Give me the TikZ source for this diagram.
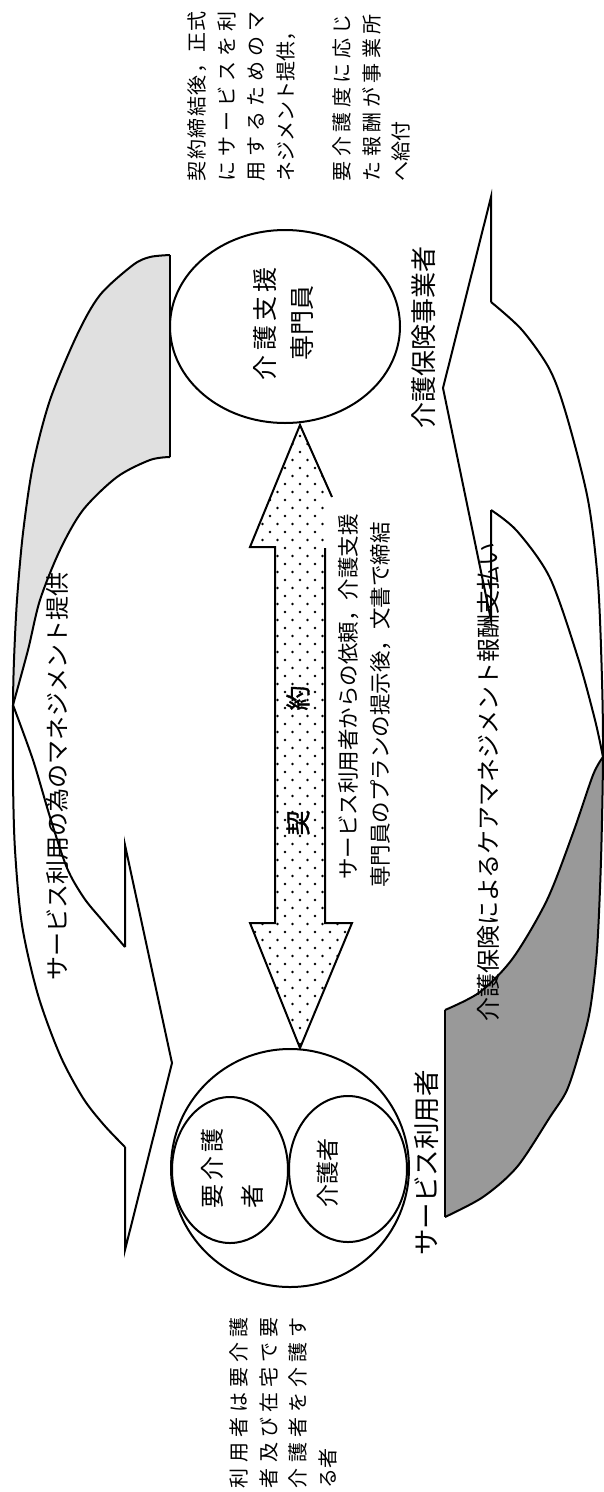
\documentclass[tikz,border=0pt]{standalone}
\usepackage{fontspec}
\newfontfamily\jp{Noto Sans CJK JP}
\newfontfamily\jpb[FakeBold=1.5]{Noto Sans CJK JP}
\usetikzlibrary{patterns}
\pgfdeclarepatternformonly{sdots}{\pgfqpoint{-2pt}{-2pt}}{\pgfqpoint{9.5pt}{10pt}}{\pgfqpoint{15pt}{16pt}}{%
  \pgfpathcircle{\pgfqpoint{0pt}{0pt}}{1.4pt}%
  \pgfpathcircle{\pgfqpoint{7.5pt}{8pt}}{1.4pt}%
  \pgfusepath{fill}}
\def\spreadchars#1#2\endspread{#1\ifx\relax#2\relax\else\hfill\spreadchars#2\endspread\fi}
\newcommand\spreadline[2]{\makebox[#1][s]{\spreadchars#2\endspread}}
\newcommand\jfs[1]{\jp\fontsize{#1}{#1}\selectfont}
\newcommand\jbfs[1]{\jpb\fontsize{#1}{#1}\selectfont}
\begin{document}
\begin{tikzpicture}[x=1pt,y=-1pt,
  outl/.style={line width=2pt,line join=miter},
  lbl/.style={inner sep=0pt,outer sep=0pt,rotate=90},
  note/.style={lbl,anchor=base west,font=\jfs{20pt}}]
\fill[white] (0,0) rectangle (604,1492);
\useasboundingbox (0,0) rectangle (604,1492);

% ---- left curved arrow (management provision) ----
\fill[black!12] (170,255) -- (170,457)
  -- plot[smooth] coordinates {(170,457) (150,460) (117,477) (83,510) (60,550) (40,600) (28,650) (13,705)}
  -- plot[smooth] coordinates {(13,705) (14,660) (17,600) (23,533) (33,465) (50,400) (77,335) (100,295) (133,265) (150,257) (170,255)}
  -- cycle;
\draw[outl] plot[smooth] coordinates {(170,255) (150,257) (133,265) (100,295) (77,335) (50,400) (33,465) (23,533) (17,600) (14,660) (13,705) (13,780) (15,850) (22,925) (38,995) (60,1055) (83,1098) (104,1125) (125,1147)};
\draw[outl] (170,255) -- (170,457);
\draw[outl] plot[smooth] coordinates {(170,457) (150,460) (117,477) (83,510) (60,550) (40,600) (28,650) (13,705)};
\draw[outl] plot[smooth] coordinates {(13,705) (33,760) (50,817) (67,868) (84,898) (102,920) (125,947)};
\draw[outl] (125,947) -- (125,845) -- (172,1063) -- (125,1250) -- (125,1147);

% ---- right curved arrow (payment) ----
\fill[black!40] (445,1010) -- (445,1217)
  -- plot[smooth] coordinates {(445,1217) (483,1197) (517,1167) (550,1117) (567,1090) (580,1050) (590,1010) (597,950) (601,860) (603,757)}
  -- plot[smooth] coordinates {(603,757) (593,775) (573,833) (547,900) (513,958) (480,992) (445,1010)}
  -- cycle;
\draw[outl] plot[smooth] coordinates {(491,302) (522,330) (550,370) (567,417) (588,500) (598,583) (602,680) (603,757) (601,860) (597,950) (590,1010) (580,1050) (567,1090) (550,1117) (517,1167) (483,1197) (445,1217)};
\draw[outl] (445,1010) -- (445,1217);
\draw[outl] plot[smooth] coordinates {(603,757) (593,775) (573,833) (547,900) (513,958) (480,992) (445,1010)};
\draw[outl] plot[smooth] coordinates {(603,757) (595,720) (578,658) (550,578) (517,531) (491,510)};
\draw[outl] (491,302) -- (491,197) -- (443,388) -- (491,620) -- (491,510);

% ---- circles ----
\draw[outl] (285,326.5) ellipse [x radius=115, y radius=96.5];
\draw[outl] (290,1168) circle [radius=119];
\draw[outl] (230,1170) ellipse [x radius=58, y radius=73];
\draw[outl] (348,1169) ellipse [x radius=59, y radius=73];

% ---- double arrow (contract) ----
\fill[pattern=sdots] (300,425) -- (332,497) -- (327,500) -- (325,548) -- (325,923) -- (352,923) -- (300,1048) -- (250,923) -- (275,923) -- (275,547) -- (250,547) -- cycle;
\draw[outl] (332,497) -- (300,425) -- (250,547) -- (275,547) -- (275,923) -- (250,923) -- (300,1048) -- (352,923) -- (325,923) -- (325,548);

% ---- labels ----
\node[lbl,font=\jbfs{25pt}] (kei) at (298,823) {契};
\node[lbl,font=\jbfs{25pt}] (yaku) at (298,698) {約};
\node[lbl,font=\jfs{21.5pt}] (c1) at (349,697) {サービス利用者からの依頼，介護支援};
\node[lbl,font=\jfs{21.5pt}] (c2) at (381,705) {専門員のプランの提示後，文書で締結};

\node[lbl,font=\jfs{25pt}] (cm1) at (265,323.5) {\spreadline{113pt}{介護支援}};
\node[lbl,font=\jfs{25pt}] (cm2) at (302,323) {専門員};

\node[lbl,anchor=base west,font=\jfs{24pt}] (y1) at (221,1208) {\spreadline{80pt}{要介護}};
\node[lbl,anchor=base west,font=\jfs{24pt}] (y2) at (261,1208) {者};
\node[lbl,font=\jfs{23pt}] (kg) at (328,1173) {介護者};

\node[lbl,font=\jfs{26.5pt}] (su) at (426,1163) {サービス利用者};
\node[lbl,font=\jfs{26pt}] (jg) at (424,337) {介護保険事業者};
\node[lbl,font=\jfs{24pt}] (t1) at (57,776) {サービス利用の為のマネジメント提供};
\node[lbl,font=\jfs{24pt}] (t2) at (488,782) {介護保険によるケアマネジメント報酬支払い};

% ---- notes ----
\node[note] (a1) at (204.6,181) {\spreadline{170pt}{契約締結後，正式}};
\node[note] (a2) at (234.1,181) {\spreadline{170pt}{にサービスを利}};
\node[note] (a3) at (263.6,181) {\spreadline{170pt}{用するためのマ}};
\node[note] (a4) at (293.1,181) {ネジメント提供，};

\node[note] (b1) at (349.6,181) {\spreadline{167pt}{要介護度に応じ}};
\node[note] (b2) at (379.1,181) {\spreadline{167pt}{た報酬が事業所}};
\node[note] (b3) at (408.6,181) {へ給付};

\node[note] (d1) at (246.6,1488) {\spreadline{171pt}{利用者は要介護}};
\node[note] (d2) at (276.1,1488) {\spreadline{171pt}{者及び在宅で要}};
\node[note] (d3) at (305.6,1488) {\spreadline{171pt}{介護者を介護す}};
\node[note] (d4) at (335.1,1488) {る者};
\end{tikzpicture}
\end{document}
